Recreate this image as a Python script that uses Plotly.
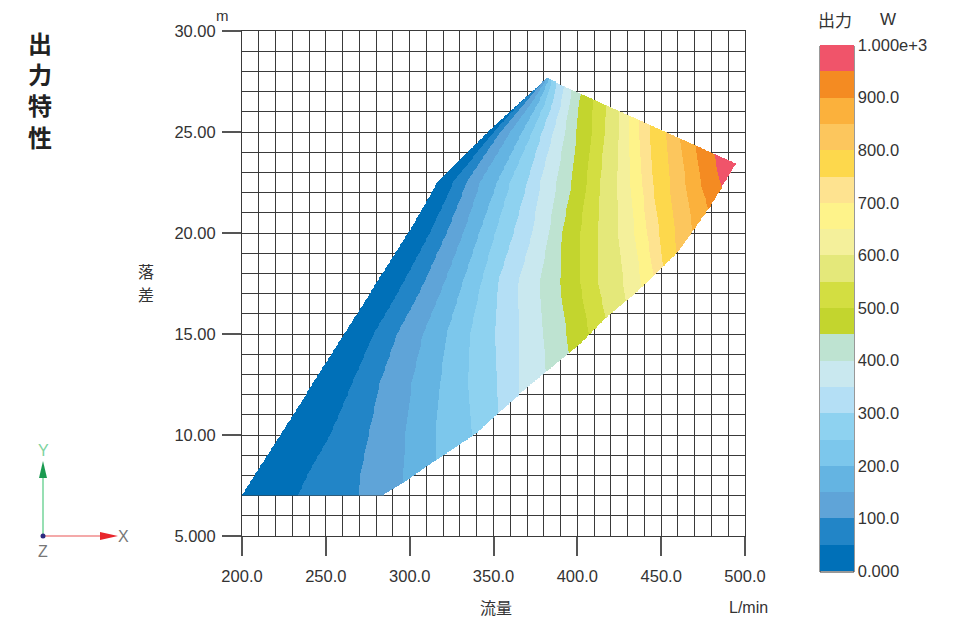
import numpy as np
import plotly.graph_objects as go

# ---------------- data ----------------
# contour levels (W) of the output power
levels = [50, 100, 150, 200, 250, 300, 350, 400, 450, 500,
          550, 600, 650, 700, 750, 800, 850, 900, 950]

# head rows (m) at which the isoline flow positions were read
head_rows = [7.0, 8.0, 10.0, 12.5, 15.0, 17.5, 20.0, 22.5, 25.0, 26.5, 27.8]

# flow (L/min) where each isoline (50 ... 950 W) crosses the given head
q_h07_0 = [233.5, 270.0, 296.0, 317.0, 338.5, 354.5, 368.5, 385.5, 400.5, 414.5, 426.5, 438.5, 449.5, 458.5, 466.5, 474.5, 486.5, 498.5, 511.5]
q_h08_0 = [239.0, 270.5, 296.0, 316.0, 338.0, 354.0, 368.0, 385.0, 400.0, 414.0, 426.0, 438.0, 449.0, 458.0, 466.0, 474.0, 486.0, 498.0, 511.0]
q_h10_0 = [252.5, 275.5, 297.5, 315.5, 337.0, 353.0, 367.0, 384.0, 399.0, 413.0, 425.0, 437.0, 448.0, 457.0, 465.0, 473.0, 485.0, 497.0, 510.0]
q_h12_5 = [265.5, 282.0, 301.0, 318.0, 335.0, 352.0, 365.0, 382.0, 397.0, 411.0, 423.0, 435.0, 446.0, 455.0, 463.0, 471.0, 483.0, 495.0, 508.0]
q_h15_0 = [278.5, 292.5, 308.0, 322.0, 336.0, 351.0, 364.8, 379.5, 393.6, 407.0, 419.0, 432.0, 443.0, 452.0, 460.0, 468.0, 480.0, 492.0, 505.0]
q_h17_5 = [296.0, 308.5, 320.5, 331.5, 342.5, 352.5, 364.7, 377.7, 389.6, 401.6, 412.5, 427.4, 438.0, 446.0, 452.0, 461.0, 474.0, 486.0, 500.0]
q_h20_0 = [312.0, 322.0, 332.0, 341.5, 351.0, 362.0, 373.0, 383.0, 391.0, 401.6, 412.5, 424.4, 434.0, 441.5, 449.0, 458.2, 469.0, 482.4, 494.0]
q_h22_5 = [326.0, 334.0, 342.0, 352.0, 360.0, 370.0, 378.0, 387.6, 396.6, 405.5, 413.5, 423.4, 431.5, 438.5, 445.0, 455.0, 464.5, 473.5, 485.0]
q_h25_0 = [350.0, 354.0, 360.0, 367.0, 373.0, 379.0, 385.6, 392.6, 399.6, 408.5, 416.5, 425.0, 431.0, 437.0, 443.3, 452.9, 461.0, 469.6, 479.0]
q_h26_5 = [366.5, 369.5, 373.0, 377.0, 381.0, 385.5, 390.5, 395.5, 401.0, 409.5, 417.0, 425.3, 431.3, 437.3, 443.3, 453.0, 461.0, 469.0, 478.0]
q_h27_8 = [381.0, 382.0, 383.0, 384.0, 385.5, 388.0, 393.0, 398.0, 404.0, 410.0, 417.5, 425.5, 431.5, 437.5, 443.5, 453.0, 461.0, 469.0, 478.0]

# operating envelope (flow L/min, head m)
envelope_q = [200.0, 284.0, 297.0, 310.0, 325.0, 340.0, 351.0, 365.0, 381.7, 401.6, 417.6,
              441.3, 460.2, 479.1, 487.0, 494.6, 381.9, 371.7, 349.7, 316.3, 300.2, 200.0]
envelope_h = [7.0, 7.0, 7.65, 8.42, 9.25, 10.1, 10.95, 11.98, 13.13, 14.5, 15.85,
              17.5, 19.07, 21.3, 22.38, 23.42, 27.67, 26.93, 25.25, 22.48, 20.15, 7.0]

band_colors = ["#0070b8", "#2285c7", "#5fa4d8", "#64b4e2", "#7cc7ec",
               "#8ed2f0", "#b4dff5", "#c9e8ef", "#bee3d1", "#c3d52e",
               "#d3de41", "#e4e87a", "#f4f09b", "#fef38a", "#fee390",
               "#fdd84c", "#fcc65d", "#fbb13c", "#f48b22", "#f0546a"]

cb_tickvals = [0, 100, 200, 300, 400, 500, 600, 700, 800, 900, 1000]
cb_ticktext = ["0.000", "100.0", "200.0", "300.0", "400.0", "500.0",
               "600.0", "700.0", "800.0", "900.0", "1.000e+3"]

# ---------------- build the field ----------------
iso = np.array([q_h07_0, q_h08_0, q_h10_0, q_h12_5, q_h15_0, q_h17_5,
                q_h20_0, q_h22_5, q_h25_0, q_h26_5, q_h27_8])
qg = np.arange(200.25, 500.0, 0.5)
hg = np.arange(7.025, 27.72, 0.05)
lev_ext = np.r_[0.0, levels, 1000.0]
Z = np.empty((len(hg), len(qg)))
for i, h in enumerate(hg):
    pos = np.array([np.interp(h, head_rows, iso[:, k]) for k in range(len(levels))])
    pos = np.maximum.accumulate(pos + np.arange(len(pos)) * 1e-6)
    pos_ext = np.r_[pos[0] - 60.0, pos, pos[-1] + 60.0]
    Z[i] = np.interp(qg, pos_ext, lev_ext)

QQ, HH = np.meshgrid(qg, hg)
inside = np.zeros(QQ.shape, dtype=bool)
for j in range(len(envelope_q) - 1):
    x1, y1 = envelope_q[j], envelope_h[j]
    x2, y2 = envelope_q[j + 1], envelope_h[j + 1]
    if y1 == y2:
        continue
    cond = (y1 > HH) != (y2 > HH)
    xint = x1 + (HH - y1) * (x2 - x1) / (y2 - y1)
    inside ^= cond & (QQ < xint)
Z[~inside] = np.nan

n = len(band_colors)
colorscale = []
for i, c in enumerate(band_colors):
    colorscale.append([i / n, c])
    colorscale.append([(i + 1) / n, c])

# page body has an 8px margin: work in window pixels and shift
OFF = 8
W, H = 953 - OFF, 621 - OFF
L, R, T, B = 242, 745, 31, 536   # plot area in window pixels


def px(x):
    return (x - L) / (R - L)


def py(y):
    return (B - y) / (B - T)


fig = go.Figure()
fig.add_trace(go.Heatmap(
    x=qg, y=hg, z=Z, zmin=0, zmax=1000, colorscale=colorscale,
    zsmooth=False, hoverinfo="skip",
    colorbar=dict(
        xref="container", yref="container",
        x=(820 - OFF) / W, xanchor="left", y=1 - (46 - OFF + 7) / H, yanchor="top",
        lenmode="pixels", len=526, thickness=34, xpad=0, ypad=0,
        outlinewidth=0,
        tickvals=cb_tickvals, ticktext=cb_ticktext, ticks="",
        tickfont=dict(family="Liberation Sans, Arial, sans-serif", size=16.5, color="#333333"),
    ),
))

grid_c = "#3a3a3a"
axis_font = dict(family="Liberation Sans, Arial, sans-serif", size=16.5, color="#333333")
fig.update_xaxes(
    range=[200, 500], tick0=200, dtick=50, tickformat=".1f",
    showgrid=True, gridcolor=grid_c, gridwidth=1,
    minor=dict(dtick=10, tick0=200, showgrid=True, gridcolor=grid_c, gridwidth=1, ticks=""),
    ticks="outside", ticklen=19, tickcolor="#555555", tickwidth=1.5,
    showline=True, linecolor=grid_c, linewidth=1, mirror=True, zeroline=False,
    tickfont=axis_font, ticklabelstandoff=6,
)
fig.update_yaxes(
    range=[5, 30], tick0=5, dtick=5, tickformat=".4r",
    showgrid=True, gridcolor=grid_c, gridwidth=1,
    minor=dict(dtick=1, tick0=5, showgrid=True, gridcolor=grid_c, gridwidth=1, ticks=""),
    ticks="outside", ticklen=19, tickcolor="#555555", tickwidth=1.5,
    showline=True, linecolor=grid_c, linewidth=1, mirror=True, zeroline=False,
    tickfont=axis_font, ticklabelstandoff=3,
)

jp = "Noto Sans CJK JP, sans-serif"
lat = "Liberation Sans, Arial, sans-serif"
ann = []


def text(x, y, s, size=16, color="#333333", family=jp, weight=None, yanchor="middle"):
    f = dict(family=family, size=size, color=color)
    if weight:
        f["weight"] = weight
    ann.append(dict(x=px(x), y=py(y), xref="paper", yref="paper", text=s,
                    showarrow=False, xanchor="center", yanchor=yanchor, font=f))


text(40, 23, "出<br>力<br>特<br>性", size=24, color="#222222", weight="bold", yanchor="top")
text(222, 16, "m", size=15, family=lat)
text(146, 271, "落", size=16)
text(146, 294, "差", size=16)
text(496, 607, "流量", size=16)
text(748, 607, "L/min", size=16, family=lat)
text(835, 20, "出力", size=17)
text(888, 20, "W", size=17, family=lat)
text(43, 450, "Y", size=16, color="#7dd3a0", family=lat)
text(123, 536, "X", size=16, color="#777777", family=lat)
text(43, 551, "Z", size=16, color="#777777", family=lat)

shapes = [
    dict(type="rect", xref="paper", yref="paper", x0=px(820), y0=py(572), x1=px(854), y1=py(46),
         line=dict(color="#333333", width=1), fillcolor="rgba(0,0,0,0)", layer="above"),
    dict(type="line", xref="paper", yref="paper", x0=px(43), y0=py(536), x1=px(43), y1=py(476),
         line=dict(color="#74d49a", width=1.5)),
    dict(type="path", xref="paper", yref="paper",
         path=f"M{px(43)},{py(461)} L{px(39)},{py(478)} L{px(47)},{py(478)} Z",
         fillcolor="#1a9a50", line=dict(width=0)),
    dict(type="line", xref="paper", yref="paper", x0=px(43), y0=py(536), x1=px(102), y1=py(536),
         line=dict(color="#f08c8c", width=1.5)),
    dict(type="path", xref="paper", yref="paper",
         path=f"M{px(118)},{py(536)} L{px(100)},{py(532)} L{px(100)},{py(540)} Z",
         fillcolor="#e8262c", line=dict(width=0)),
    dict(type="circle", xref="paper", yref="paper", x0=px(40.5), y0=py(538.5), x1=px(45.5), y1=py(533.5),
         fillcolor="#2b2b80", line=dict(width=0)),
]

fig.update_layout(
    width=W, height=H, autosize=False,
    margin=dict(l=L - OFF, r=(953 - R), t=T - OFF, b=(621 - B)),
    paper_bgcolor="white", plot_bgcolor="white",
    annotations=ann, shapes=shapes, showlegend=False,
)

fig.write_html("out.html")
